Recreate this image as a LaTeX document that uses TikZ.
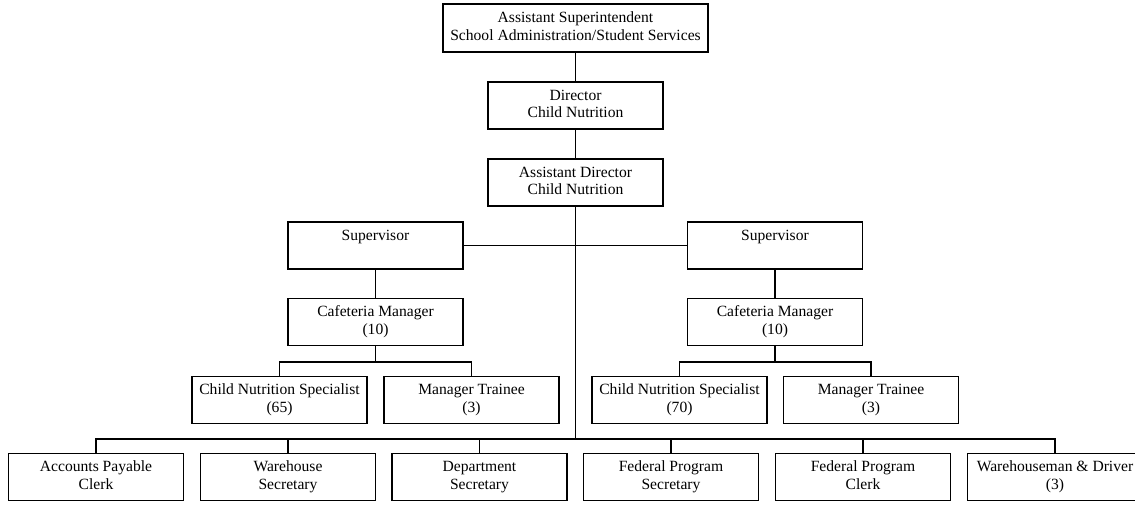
\documentclass[tikz,border=0pt]{standalone}
\usepackage{fontspec}
\setmainfont{Liberation Serif}
\newcommand{\twoline}[2]{\strut#1\\\strut#2}
\begin{document}
\begin{tikzpicture}[x=1pt,y=-1pt, line width=1.1pt,
  post/.style={draw=black, align=center, inner sep=0pt,
    minimum width=175pt, minimum height=47pt,
    font=\fontsize{15.6}{17.5}\selectfont},
  wide/.style={post, minimum width=265pt, minimum height=48pt}]
\useasboundingbox (0,0) rectangle (1135,504);
\clip (0,0) rectangle (1135,504);

% administration chain
\node[wide] (top)  at (575.5,28)    {\twoline{Assistant Superintendent}{School Administration/Student Services}};
\node[post] (dir)  at (575.5,105.5) {\twoline{Director}{Child Nutrition}};
\node[post] (adir) at (575.5,182.5) {\twoline{Assistant Director}{Child Nutrition}};

% supervisors and cafeteria managers
\node[post] (supL) at (375.5,245.5) {\twoline{Supervisor}{}};
\node[post] (supR) at (775,245.5)   {\twoline{Supervisor}{}};
\node[post] (cafL) at (375.5,322)   {\twoline{Cafeteria Manager}{(10)}};
\node[post] (cafR) at (775,322)     {\twoline{Cafeteria Manager}{(10)}};

% kitchen staff
\node[post] (cnsL) at (279.5,400) {\twoline{Child Nutrition Specialist}{(65)}};
\node[post] (mtL)  at (471.5,400) {\twoline{Manager Trainee}{(3)}};
\node[post] (cnsR) at (679.5,400) {\twoline{Child Nutrition Specialist}{(70)}};
\node[post] (mtR)  at (871,400)   {\twoline{Manager Trainee}{(3)}};

% office and warehouse staff
\node[post] (b1) at (96,477)    {\twoline{Accounts Payable}{Clerk}};
\node[post] (b2) at (288,477)   {\twoline{Warehouse}{Secretary}};
\node[post] (b3) at (479.5,477) {\twoline{Department}{Secretary}};
\node[post] (b4) at (671,477)   {\twoline{Federal Program}{Secretary}};
\node[post] (b5) at (863,477)   {\twoline{Federal Program}{Clerk}};
\node[post] (b6) at (1055,477)  {\twoline{Warehouseman \& Driver}{(3)}};

% junction points
\coordinate (bj) at (575.5,439);
\coordinate (jL) at (375.5,362);
\coordinate (jR) at (775,362);

% connectors
\draw (top.south) -- (dir.north);
\draw (dir.south) -- (adir.north);
\draw (adir.south) -- (bj);
\draw (supL.east) -- (supR.west);
\draw (supL.south) -- (cafL.north);
\draw (supR.south) -- (cafR.north);
\draw (cafL.south) -- (jL);
\draw (cafR.south) -- (jR);
\draw (cnsL.north) |- (jL) -| (mtL.north);
\draw (cnsR.north) |- (jR) -| (mtR.north);
\draw (b1.north) |- (bj) -| (b6.north);
\foreach \n in {b2,b3,b4,b5}
  \draw (\n.north) -- (\n.north |- bj);
\end{tikzpicture}
\end{document}
